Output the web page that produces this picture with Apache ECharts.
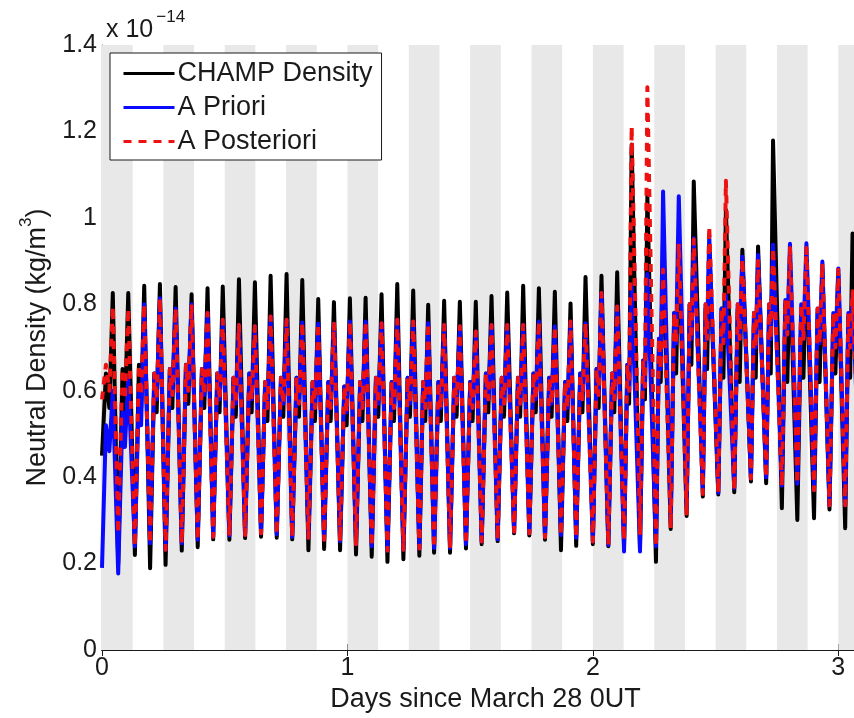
<!DOCTYPE html>
<html>
<head>
<meta charset="utf-8">
<script src="https://cdn.jsdelivr.net/npm/echarts@6/dist/echarts.min.js"></script>
<style>
  html, body { margin: 0; padding: 0; background: #fff; }
  #chart { width: 854px; height: 718px; }
</style>
</head>
<body>
<div id="chart"></div>
<script>
// Neutral density along the CHAMP orbit, in units of 1e-14 kg/m^3.
// One entry per orbit: dayside maximum, following minimum, and the
// shoulder / dip pair on the way back up to the next maximum.

const peakTimes = [0.044, 0.107, 0.172, 0.236, 0.300, 0.365, 0.430, 0.492, 0.558, 0.623,
  0.687, 0.752, 0.816, 0.881, 0.945, 1.010, 1.074, 1.139, 1.203, 1.268,
  1.329, 1.394, 1.458, 1.523, 1.587, 1.651, 1.716, 1.780, 1.845, 1.909,
  1.970, 2.035, 2.099, 2.158, 2.222, 2.286, 2.350, 2.411, 2.474, 2.542,
  2.609, 2.673, 2.734, 2.803, 2.870, 2.935, 3.000, 3.058];

const troughTimes = [0.066, 0.134, 0.196, 0.259, 0.325, 0.390, 0.453, 0.519, 0.583, 0.648,
  0.712, 0.775, 0.841, 0.905, 0.970, 1.035, 1.099, 1.163, 1.228, 1.293,
  1.353, 1.418, 1.483, 1.547, 1.612, 1.679, 1.741, 1.805, 1.870, 1.932,
  2.000, 2.063, 2.127, 2.192, 2.257, 2.317, 2.382, 2.448, 2.511, 2.576,
  2.644, 2.706, 2.770, 2.833, 2.901, 2.964, 3.028, 3.090];

// start of the record, before the first maximum
const leadTimes = [0, 0.016, 0.030];

// CHAMP accelerometer-derived density
const champLead = [0.45, 0.64, 0.56];
const champPeaks = [0.826, 0.826, 0.843, 0.847, 0.840, 0.823, 0.837, 0.841, 0.858, 0.851,
  0.866, 0.870, 0.856, 0.812, 0.805, 0.814, 0.815, 0.823, 0.847, 0.832,
  0.799, 0.808, 0.806, 0.806, 0.819, 0.827, 0.843, 0.837, 0.829, 0.802,
  0.863, 0.866, 0.874, 1.170, 1.050, 0.953, 0.949, 1.084, 0.934, 1.018,
  0.926, 0.934, 1.179, 0.900, 0.900, 0.880, 0.870, 0.964];
const champTroughs = [0.200, 0.220, 0.189, 0.197, 0.230, 0.238, 0.256, 0.255, 0.259, 0.262,
  0.260, 0.256, 0.231, 0.234, 0.231, 0.221, 0.216, 0.204, 0.210, 0.218,
  0.225, 0.225, 0.235, 0.245, 0.252, 0.270, 0.265, 0.255, 0.231, 0.241,
  0.245, 0.240, 0.240, 0.235, 0.204, 0.280, 0.310, 0.355, 0.360, 0.365,
  0.390, 0.386, 0.328, 0.301, 0.305, 0.325, 0.282, 0.300];
const champShoulders = [0.65, 0.66, 0.64, 0.65, 0.66, 0.65, 0.64, 0.63, 0.64, 0.62,
  0.63, 0.63, 0.62, 0.62, 0.61, 0.62, 0.63, 0.62, 0.63, 0.62,
  0.62, 0.63, 0.62, 0.64, 0.63, 0.63, 0.64, 0.63, 0.62, 0.64,
  0.65, 0.64, 0.66, 0.67, 0.72, 0.78, 0.80, 0.79, 0.79, 0.79,
  0.78, 0.79, 0.80, 0.79, 0.78, 0.77, 0.77];
const champDips = [0.55, 0.56, 0.55, 0.56, 0.57, 0.56, 0.55, 0.54, 0.55, 0.53,
  0.54, 0.54, 0.53, 0.53, 0.52, 0.53, 0.54, 0.53, 0.54, 0.53,
  0.53, 0.54, 0.53, 0.55, 0.54, 0.54, 0.55, 0.54, 0.53, 0.55,
  0.56, 0.55, 0.57, 0.58, 0.62, 0.64, 0.66, 0.65, 0.63, 0.62,
  0.63, 0.64, 0.62, 0.63, 0.62, 0.64, 0.63];

// a priori model
const prioriLead = [0.19, 0.52, 0.46];
const prioriPeaks = [0.600, 0.630, 0.800, 0.814, 0.790, 0.800, 0.780, 0.764, 0.752, 0.749,
  0.772, 0.764, 0.758, 0.755, 0.755, 0.760, 0.760, 0.756, 0.764, 0.760,
  0.756, 0.752, 0.749, 0.737, 0.752, 0.752, 0.752, 0.760, 0.749, 0.760,
  0.756, 0.826, 0.795, 0.840, 0.870, 1.061, 1.050, 0.953, 0.960, 0.820,
  0.910, 0.914, 0.938, 0.940, 0.941, 0.899, 0.883, 0.820];
const prioriTroughs = [0.177, 0.240, 0.247, 0.232, 0.247, 0.255, 0.262, 0.265, 0.266, 0.270,
  0.268, 0.262, 0.260, 0.255, 0.252, 0.245, 0.240, 0.230, 0.232, 0.235,
  0.236, 0.236, 0.245, 0.251, 0.256, 0.274, 0.270, 0.261, 0.266, 0.260,
  0.251, 0.243, 0.228, 0.228, 0.240, 0.295, 0.330, 0.370, 0.364, 0.375,
  0.397, 0.400, 0.380, 0.385, 0.370, 0.335, 0.335, 0.340];
const prioriShoulders = [0.55, 0.60, 0.64, 0.65, 0.66, 0.65, 0.64, 0.63, 0.64, 0.62,
  0.63, 0.63, 0.62, 0.62, 0.61, 0.62, 0.63, 0.62, 0.63, 0.62,
  0.62, 0.63, 0.62, 0.64, 0.63, 0.63, 0.64, 0.63, 0.62, 0.64,
  0.65, 0.64, 0.66, 0.67, 0.72, 0.78, 0.80, 0.80, 0.79, 0.80,
  0.78, 0.80, 0.81, 0.80, 0.79, 0.78, 0.78];
const prioriDips = [0.47, 0.52, 0.58, 0.59, 0.60, 0.59, 0.58, 0.57, 0.58, 0.56,
  0.57, 0.57, 0.56, 0.56, 0.55, 0.56, 0.57, 0.56, 0.57, 0.56,
  0.56, 0.57, 0.56, 0.58, 0.57, 0.57, 0.58, 0.57, 0.56, 0.58,
  0.59, 0.58, 0.60, 0.61, 0.65, 0.71, 0.72, 0.72, 0.71, 0.72,
  0.70, 0.72, 0.73, 0.72, 0.71, 0.70, 0.70];

// a posteriori (corrected) model
const posterioriLead = [0.58, 0.66, 0.60];
const posterioriPeaks = [0.795, 0.790, 0.800, 0.814, 0.790, 0.800, 0.780, 0.764, 0.752, 0.749,
  0.772, 0.764, 0.758, 0.755, 0.755, 0.760, 0.760, 0.756, 0.764, 0.760,
  0.756, 0.752, 0.749, 0.737, 0.752, 0.752, 0.752, 0.760, 0.749, 0.760,
  0.756, 0.826, 0.795, 1.211, 1.302, 0.880, 0.940, 0.950, 0.980, 1.086,
  0.905, 0.900, 0.930, 0.930, 0.930, 0.895, 0.880, 0.830];
const posterioriTroughs = [0.270, 0.240, 0.247, 0.232, 0.247, 0.255, 0.262, 0.265, 0.266, 0.270,
  0.268, 0.262, 0.260, 0.255, 0.252, 0.245, 0.240, 0.230, 0.232, 0.235,
  0.236, 0.236, 0.245, 0.251, 0.256, 0.274, 0.270, 0.261, 0.266, 0.260,
  0.251, 0.243, 0.255, 0.270, 0.240, 0.282, 0.316, 0.361, 0.364, 0.370,
  0.397, 0.400, 0.380, 0.385, 0.370, 0.335, 0.335, 0.340];
const posterioriShoulders = [0.65, 0.66, 0.64, 0.65, 0.66, 0.65, 0.64, 0.63, 0.64, 0.62,
  0.63, 0.63, 0.62, 0.62, 0.61, 0.62, 0.63, 0.62, 0.63, 0.62,
  0.62, 0.63, 0.62, 0.64, 0.63, 0.63, 0.64, 0.63, 0.62, 0.64,
  0.65, 0.64, 0.66, 0.67, 0.72, 0.78, 0.80, 0.80, 0.79, 0.80,
  0.78, 0.80, 0.81, 0.80, 0.79, 0.78, 0.78];
const posterioriDips = [0.58, 0.59, 0.58, 0.59, 0.60, 0.59, 0.58, 0.57, 0.58, 0.56,
  0.57, 0.57, 0.56, 0.56, 0.55, 0.56, 0.57, 0.56, 0.57, 0.56,
  0.56, 0.57, 0.56, 0.58, 0.57, 0.57, 0.58, 0.57, 0.56, 0.58,
  0.59, 0.58, 0.60, 0.61, 0.65, 0.71, 0.72, 0.72, 0.71, 0.72,
  0.70, 0.72, 0.73, 0.72, 0.71, 0.70, 0.70];

// eclipse intervals (days) shaded in grey
const shadowBands = [[0, 0.125], [0.25, 0.375], [0.5, 0.625], [0.75, 0.875],
  [1, 1.125], [1.25, 1.375], [1.5, 1.625], [1.75, 1.875],
  [2, 2.125], [2.25, 2.375], [2.5, 2.625], [2.75, 2.875], [3, 3.125]];

const seriesNames = ['CHAMP Density', 'A Priori', 'A Posteriori'];

// shoulder and dip sit part-way up the rise from a minimum to the next maximum
const SHOULDER_PHASE = 0.43;
const DIP_PHASE = 0.67;

function buildTrack(lead, peaks, troughs, shoulders, dips) {
  const pts = leadTimes.map((t, i) => [t, lead[i]]);
  for (let k = 0; k < peakTimes.length; k++) {
    pts.push([peakTimes[k], peaks[k]]);
    pts.push([troughTimes[k], troughs[k]]);
    if (k < shoulders.length && k + 1 < peakTimes.length) {
      const span = peakTimes[k + 1] - troughTimes[k];
      pts.push([troughTimes[k] + SHOULDER_PHASE * span, shoulders[k]]);
      pts.push([troughTimes[k] + DIP_PHASE * span, dips[k]]);
    }
  }
  return pts;
}

const FONT = '"Liberation Sans", Arial, Helvetica, sans-serif';
const INK = '#1a1a1a';
const LINE_W = 4;

const chart = echarts.init(document.getElementById('chart'), null, { renderer: 'canvas' });

chart.setOption({
  animation: false,
  backgroundColor: '#fff',
  textStyle: { fontFamily: FONT, color: INK },
  title: {
    left: 101,
    top: 4,
    text: '{a|x 10}{b|\u221214}',
    textStyle: {
      fontWeight: 'normal',
      rich: {
        a: { fontSize: 25, fontFamily: FONT, fontWeight: 'normal', color: INK, verticalAlign: 'bottom', lineHeight: 34 },
        b: { fontSize: 17, fontFamily: FONT, fontWeight: 'normal', color: INK, verticalAlign: 'top', padding: [0, 0, 0, 3] }
      }
    }
  },
  legend: {
    data: seriesNames,
    orient: 'vertical',
    left: 110,
    top: 53,
    selectedMode: false,
    backgroundColor: '#fff',
    borderColor: INK,
    borderWidth: 1,
    borderRadius: 0,
    padding: [7, 9, 5, 12],
    itemWidth: 51,
    itemHeight: 14,
    itemGap: 7,
    itemStyle: { opacity: 0 },
    lineStyle: { width: 3 },
    textStyle: { fontSize: 27, fontFamily: FONT, color: INK, padding: [0, 0, 0, -2] }
  },
  grid: { left: 102, width: 767, top: 45, height: 605, containLabel: false, outerBoundsMode: 'none' },
  xAxis: [{
    type: 'value',
    min: 0,
    max: 3.125,
    interval: 1,
    name: 'Days since March 28 0UT',
    nameLocation: 'middle',
    nameGap: 32,
    nameTextStyle: { fontSize: 27, fontFamily: FONT, color: INK },
    axisLine: { show: true, onZero: false, lineStyle: { color: INK, width: 1.2 } },
    axisTick: { show: true, inside: true, length: 6, lineStyle: { color: INK } },
    axisLabel: {
      fontSize: 25, fontFamily: FONT, color: INK, margin: 6,
      formatter: v => (Math.abs(v - Math.round(v)) < 1e-9 ? String(Math.round(v)) : '')
    },
    splitLine: { show: false }
  }, {
    type: 'value',
    position: 'top',
    min: 0,
    max: 3.125,
    interval: 1,
    axisLine: { show: true, lineStyle: { color: INK, width: 1.2 } },
    axisTick: { show: true, inside: true, length: 6, lineStyle: { color: INK } },
    axisLabel: { show: false },
    splitLine: { show: false }
  }],
  yAxis: {
    type: 'value',
    min: 0,
    max: 1.4,
    interval: 0.2,
    name: '{a|Neutral Density (kg/m}{s|3}{a|)}',
    nameLocation: 'middle',
    nameGap: 46,
    nameTextStyle: {
      rich: {
        a: { fontSize: 27, fontFamily: FONT, color: INK, verticalAlign: 'bottom', lineHeight: 34 },
        s: { fontSize: 17, fontFamily: FONT, color: INK, verticalAlign: 'top' }
      }
    },
    axisLine: { show: true, lineStyle: { color: INK, width: 1.2 } },
    axisTick: { show: true, inside: true, length: 6, lineStyle: { color: INK } },
    axisLabel: { fontSize: 25, fontFamily: FONT, color: INK, margin: 5 },
    splitLine: { show: false }
  },
  series: [
    {
      name: 'eclipse',
      type: 'line',
      data: [],
      z: 1,
      silent: true,
      markArea: {
        silent: true,
        itemStyle: { color: '#e8e8e8' },
        data: shadowBands.map(b => [{ xAxis: b[0] }, { xAxis: b[1] }])
      }
    },
    {
      name: seriesNames[0],
      type: 'line',
      z: 3,
      showSymbol: false,
      symbol: 'none',
      color: '#000',
      lineStyle: { color: '#000', width: LINE_W, join: 'round' },
      data: buildTrack(champLead, champPeaks, champTroughs, champShoulders, champDips)
    },
    {
      name: seriesNames[1],
      type: 'line',
      z: 4,
      showSymbol: false,
      symbol: 'none',
      color: '#0a0aff',
      lineStyle: { color: '#0a0aff', width: LINE_W, join: 'round' },
      data: buildTrack(prioriLead, prioriPeaks, prioriTroughs, prioriShoulders, prioriDips)
    },
    {
      name: seriesNames[2],
      type: 'line',
      z: 5,
      showSymbol: false,
      symbol: 'none',
      color: '#ee1111',
      lineStyle: { color: '#ee1111', width: LINE_W, type: [8, 7], join: 'round' },
      data: buildTrack(posterioriLead, posterioriPeaks, posterioriTroughs, posterioriShoulders, posterioriDips)
    }
  ]
});
</script>
</body>
</html>
